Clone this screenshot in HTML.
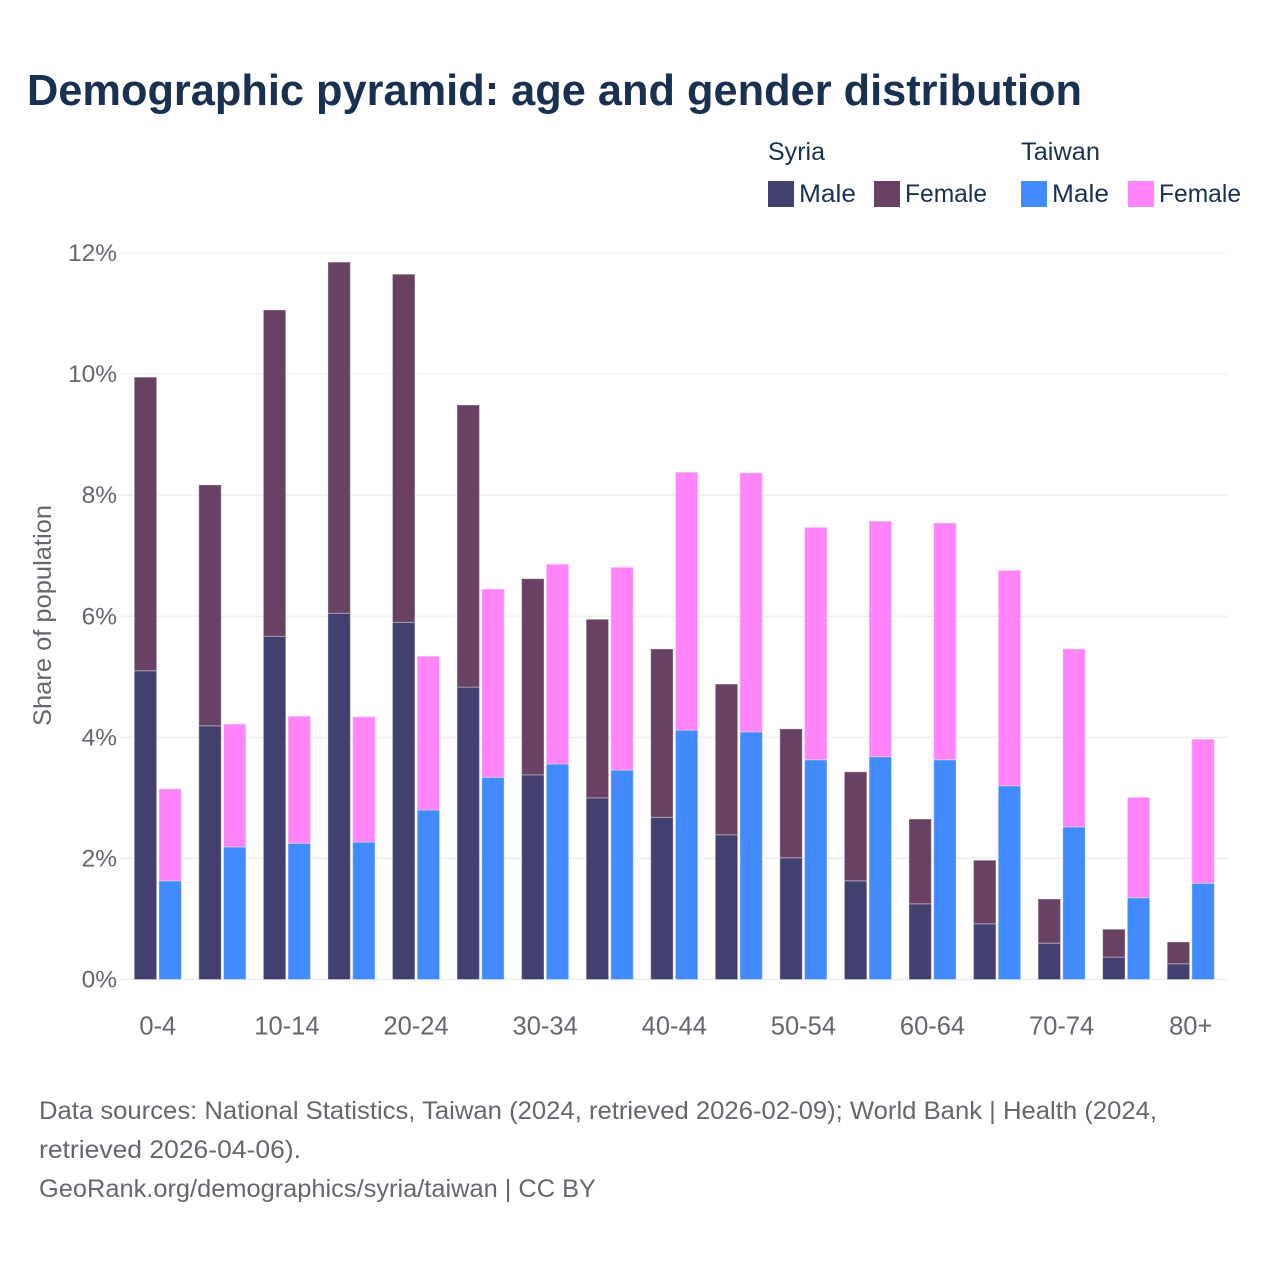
<!DOCTYPE html>
<html lang="en">
<head>
<meta charset="utf-8">
<title>Demographic pyramid: age and gender distribution</title>
<style>
html,body{margin:0;padding:0;background:#fff;width:1280px;height:1280px;overflow:hidden}
svg{display:block;font-family:"Liberation Sans",sans-serif}
</style>
</head>
<body>
<svg id="chart" xmlns="http://www.w3.org/2000/svg" width="1280" height="1280" viewBox="0 0 1280 1280">
  <rect x="0" y="0" width="1280" height="1280" fill="#ffffff"/>
  <text x="27" y="105" font-size="44" font-weight="700" fill="#1a3050" textLength="1055" lengthAdjust="spacingAndGlyphs">Demographic pyramid: age and gender distribution</text>

  <g font-size="25" fill="#1b2f4f">
    <text x="768" y="160" textLength="57" lengthAdjust="spacingAndGlyphs">Syria</text>
    <text x="1021" y="160" textLength="79" lengthAdjust="spacingAndGlyphs">Taiwan</text>
    <rect x="768" y="181" width="26" height="26" fill="#41406f"/>
    <text x="799" y="202" textLength="57" lengthAdjust="spacingAndGlyphs">Male</text>
    <rect x="874" y="181" width="26" height="26" fill="#694263"/>
    <text x="905" y="202" textLength="82" lengthAdjust="spacingAndGlyphs">Female</text>
    <rect x="1021" y="181" width="26" height="26" fill="#428bff"/>
    <text x="1052" y="202" textLength="57" lengthAdjust="spacingAndGlyphs">Male</text>
    <rect x="1128" y="181" width="26" height="26" fill="#ff85f8"/>
    <text x="1159" y="202" textLength="82" lengthAdjust="spacingAndGlyphs">Female</text>
  </g>

  <g id="grid"></g>
  <g id="bars"></g>
  <g id="yticks"></g>
  <g id="xticks"></g>

  <text transform="translate(51 726) rotate(-90)" x="0" y="0" font-size="25" fill="#66666e" textLength="221" lengthAdjust="spacingAndGlyphs">Share of population</text>

  <g font-size="25" fill="#66666e">
    <text x="39" y="1119" textLength="1118" lengthAdjust="spacingAndGlyphs">Data sources: National Statistics, Taiwan (2024, retrieved 2026-02-09); World Bank | Health (2024,</text>
    <text x="39" y="1158" textLength="262" lengthAdjust="spacingAndGlyphs">retrieved 2026-04-06).</text>
    <text x="39" y="1197" textLength="557" lengthAdjust="spacingAndGlyphs">GeoRank.org/demographics/syria/taiwan | CC BY</text>
  </g>
</svg>
<script>
const ageGroups = ["0-4","5-9","10-14","15-19","20-24","25-29","30-34","35-39","40-44","45-49","50-54","55-59","60-64","65-69","70-74","75-79","80+"];
const syriaMale = [5.10,4.19,5.67,6.05,5.90,4.83,3.38,3.00,2.68,2.39,2.01,1.63,1.25,0.92,0.60,0.37,0.26];
const syriaFemale = [4.85,3.98,5.39,5.80,5.75,4.66,3.24,2.95,2.78,2.49,2.13,1.80,1.40,1.05,0.73,0.46,0.36];
const taiwanMale = [1.63,2.19,2.25,2.27,2.80,3.34,3.56,3.46,4.12,4.09,3.63,3.68,3.63,3.20,2.52,1.35,1.59];
const taiwanFemale = [1.52,2.03,2.10,2.07,2.54,3.11,3.30,3.35,4.26,4.28,3.84,3.89,3.91,3.56,2.94,1.66,2.38];
const yTickValues = [0,2,4,6,8,10,12];
const xLabelEvery = 2;

const NS = "http://www.w3.org/2000/svg";
const yZero = 979.5, yPerUnit = 60.54;
const xFirst = 157.8, xStep = 64.56, barWidth = 22.4, barGap = 2.3;
const yScale = v => yZero - v * yPerUnit;
const xCenter = i => xFirst + i * xStep;

function make(tag, parent, attrs) {
  const el = document.createElementNS(NS, tag);
  for (const k in attrs) el.setAttribute(k, attrs[k]);
  parent.appendChild(el);
  return el;
}

const gridG = document.getElementById("grid");
const yTickG = document.getElementById("yticks");
const xTickG = document.getElementById("xticks");
const barsG = document.getElementById("bars");

yTickValues.forEach(v => {
  const line = make("line", gridG, {x1:120, x2:1228.5, y1:yScale(v), y2:yScale(v), stroke:"#eeeeee", "stroke-width": v >= 10 ? 1 : 1.5});
  
  
  const label = make("text", yTickG, {x:117, y:yScale(v)+8, "text-anchor":"end", "font-size":24.5, fill:"#66666e"});
  
  
  label.textContent = v + "%";
});

ageGroups.forEach((age, i) => {
  if (i % xLabelEvery === 0) {
    const label = make("text", xTickG, {x:xCenter(i), y:1034.5, "text-anchor":"middle", "font-size":25.5, fill:"#66666e"});
    
    
    label.textContent = age;
  }
  const leftX = xCenter(i) - barGap / 2 - barWidth;
  const rightX = xCenter(i) + barGap / 2;
  const barStyle = {width:barWidth, stroke:"#ffffff", "stroke-opacity":0.35, "stroke-width":1};

  const sm = make("rect", barsG, Object.assign({x:leftX, y:yScale(syriaMale[i]), height:syriaMale[i]*yPerUnit, fill:"#41406f"}, barStyle));
  
  

  const sf = make("rect", barsG, Object.assign({x:leftX, y:yScale(syriaMale[i]+syriaFemale[i]), height:syriaFemale[i]*yPerUnit, fill:"#694263"}, barStyle));
  
  

  const tm = make("rect", barsG, Object.assign({x:rightX, y:yScale(taiwanMale[i]), height:taiwanMale[i]*yPerUnit, fill:"#428bff"}, barStyle));
  
  

  const tf = make("rect", barsG, Object.assign({x:rightX, y:yScale(taiwanMale[i]+taiwanFemale[i]), height:taiwanFemale[i]*yPerUnit, fill:"#ff85f8"}, barStyle));
  
  
});
</script>
</body>
</html>
